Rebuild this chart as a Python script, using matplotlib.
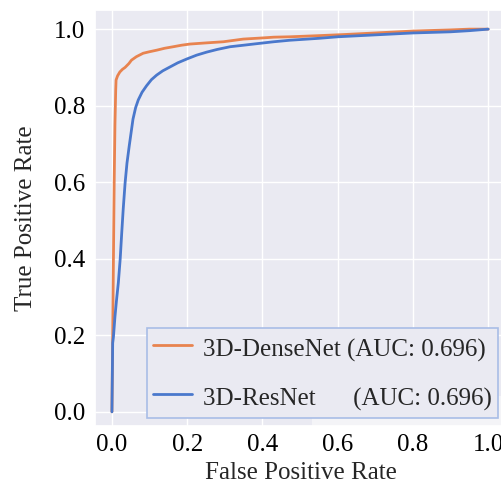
import matplotlib
matplotlib.use("Agg")
import matplotlib.pyplot as plt
import seaborn as sns
from matplotlib.patches import Rectangle

sns.set_theme(style="darkgrid")
plt.rcParams['font.family'] = ['Liberation Serif', 'DejaVu Serif']

# ROC points
dense_fpr = [0.0, 0.002, 0.004, 0.006, 0.008, 0.010, 0.011, 0.015, 0.021, 0.028, 0.035, 0.045,
             0.052, 0.065, 0.083, 0.100, 0.119, 0.140, 0.163, 0.185, 0.207, 0.25, 0.296,
             0.349, 0.40, 0.43, 0.473, 0.55, 0.62, 0.70, 0.80, 0.90, 0.95, 1.0]
dense_tpr = [0.0, 0.20, 0.40, 0.60, 0.75, 0.84, 0.867, 0.878, 0.888, 0.895, 0.90, 0.91,
             0.919, 0.928, 0.937, 0.941, 0.945, 0.950, 0.954, 0.958, 0.961, 0.964, 0.967,
             0.974, 0.977, 0.979, 0.980, 0.983, 0.986, 0.990, 0.995, 0.998, 1.0, 1.0]

res_fpr = [0.0, 0.002, 0.004, 0.008, 0.012, 0.017, 0.022, 0.026, 0.030, 0.035, 0.040, 0.046,
           0.056, 0.063, 0.070, 0.080, 0.092, 0.105, 0.119, 0.135, 0.154, 0.175, 0.199,
           0.225, 0.252, 0.28, 0.314, 0.35, 0.385, 0.43, 0.473, 0.55, 0.60, 0.70,
           0.80, 0.90, 0.95, 1.0]
res_tpr = [0.0, 0.18, 0.196, 0.248, 0.29, 0.337, 0.40, 0.467, 0.53, 0.598, 0.65, 0.695,
           0.765, 0.795, 0.815, 0.835, 0.852, 0.868, 0.880, 0.891, 0.901, 0.912, 0.922,
           0.932, 0.940, 0.947, 0.954, 0.958, 0.962, 0.967, 0.971, 0.976, 0.980, 0.985,
           0.990, 0.993, 0.996, 1.0]

labels = ["3D-DenseNet (AUC: 0.696)", "3D-ResNet      (AUC: 0.696)"]
xticks = [0.0, 0.2, 0.4, 0.6, 0.8, 1.0]
yticks = [0.0, 0.2, 0.4, 0.6, 0.8, 1.0]

orange = "#e8834f"
blue = "#4a78cc"

fig = plt.figure(figsize=(5.02, 4.84), dpi=100)
ax = fig.add_axes([95/502, 58/484, 412/502, 416/484])

ax.plot(dense_fpr, dense_tpr, color=orange, lw=2.0, label=labels[0])
ax.plot(res_fpr, res_tpr, color=blue, lw=2.0, label=labels[1])

ax.set_xlim(-0.045, 1.05)
ax.set_ylim(-0.037, 1.05)
ax.set_xticks(xticks)
ax.set_yticks(yticks)
ax.set_xticklabels([f"{t:.1f}" for t in xticks])
ax.set_yticklabels([f"{t:.1f}" for t in yticks])
ax.tick_params(axis='both', labelsize=18, colors='black', length=0)
ax.tick_params(axis='y', pad=7)
ax.tick_params(axis='x', pad=6)
ax.set_xlabel("False Positive Rate", fontsize=18, labelpad=4)
ax.set_ylabel("True Positive Rate", fontsize=18, labelpad=12)

# faint box behind the legend
ax.add_patch(Rectangle(((312-95)/412, 0.0), (510-312)/412, 30/416,
                       transform=ax.transAxes, facecolor="#f4f4f7", edgecolor="none",
                       zorder=2.5))

leg = ax.legend(loc='lower left', bbox_to_anchor=((147-95)/412, (426-418)/416),
                fontsize=18, frameon=True, fancybox=False, handlelength=1.55,
                handleheight=1.4, borderpad=0.25, labelspacing=0.8,
                handletextpad=0.45, borderaxespad=0)
leg.get_frame().set_edgecolor("#a9bde6")
leg.get_frame().set_facecolor("#eaeaf2")
leg.get_frame().set_alpha(1.0)
leg.get_frame().set_linewidth(1.2)
leg.set_zorder(3)

fig.savefig("out.png", dpi=100)
